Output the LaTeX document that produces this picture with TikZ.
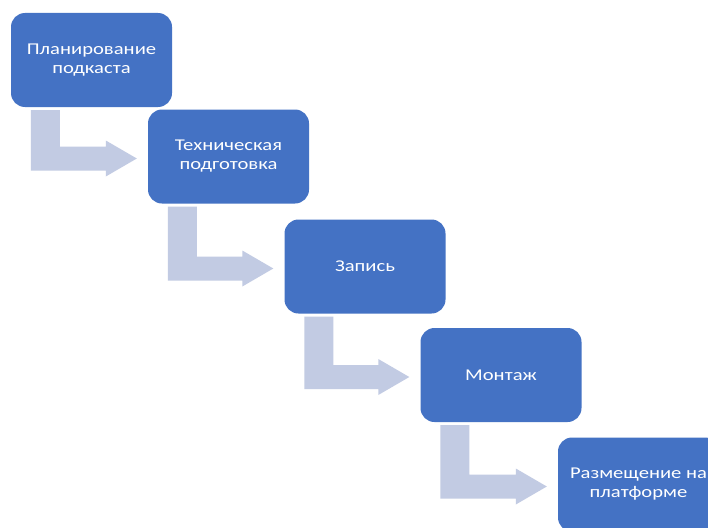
\documentclass[tikz,border=0pt]{standalone}
\usepackage{fontspec}
\setmainfont{Carlito}[FakeStretch=1.25]
\usetikzlibrary{calc}
\definecolor{boxblue}{HTML}{4472C4}
\definecolor{flowgray}{HTML}{C2CBE3}
\tikzset{
  stagebox/.style={fill=boxblue, draw=none, rounded corners=14pt, minimum width=161pt, minimum height=94pt,
    text=white, align=center, inner sep=0pt, font=\fontsize{16.5}{19}\selectfont},
  flow/.style={fill=flowgray, draw=none}
}
\newcommand{\bentflow}[2]{%
  \fill[flow] let \p1=(#1.south west), \p2=(#2.west) in
    (\x1+20pt,\y1-3pt) -- (\x1+49pt,\y1-3pt) -- (\x1+49pt,\y2+10pt) -- (\x2-42pt,\y2+10pt)
    -- (\x2-42pt,\y2+16pt) -- (\x2-11pt,\y2-2pt) -- (\x2-42pt,\y2-20pt) -- (\x2-42pt,\y2-14pt)
    -- (\x1+20pt,\y2-14pt) -- cycle;}
\begin{document}
\begin{tikzpicture}[x=1pt,y=-1pt]
\useasboundingbox[fill=white] (0,0) rectangle (708,527);
\node[stagebox] (b1) at (91.5,60) {Планирование\\подкаста};
\node[stagebox] (b2) at (228.5,156.5) {Техническая\\подготовка};
\node[stagebox] (b3) at (365,266.5) {Запись};
\node[stagebox] (b4) at (501,375) {Монтаж};
\node[stagebox] (b5) at (638.5,484.5) {Размещение на\\платформе};
\bentflow{b1}{b2}
\bentflow{b2}{b3}
\bentflow{b3}{b4}
\bentflow{b4}{b5}
\end{tikzpicture}
\end{document}
